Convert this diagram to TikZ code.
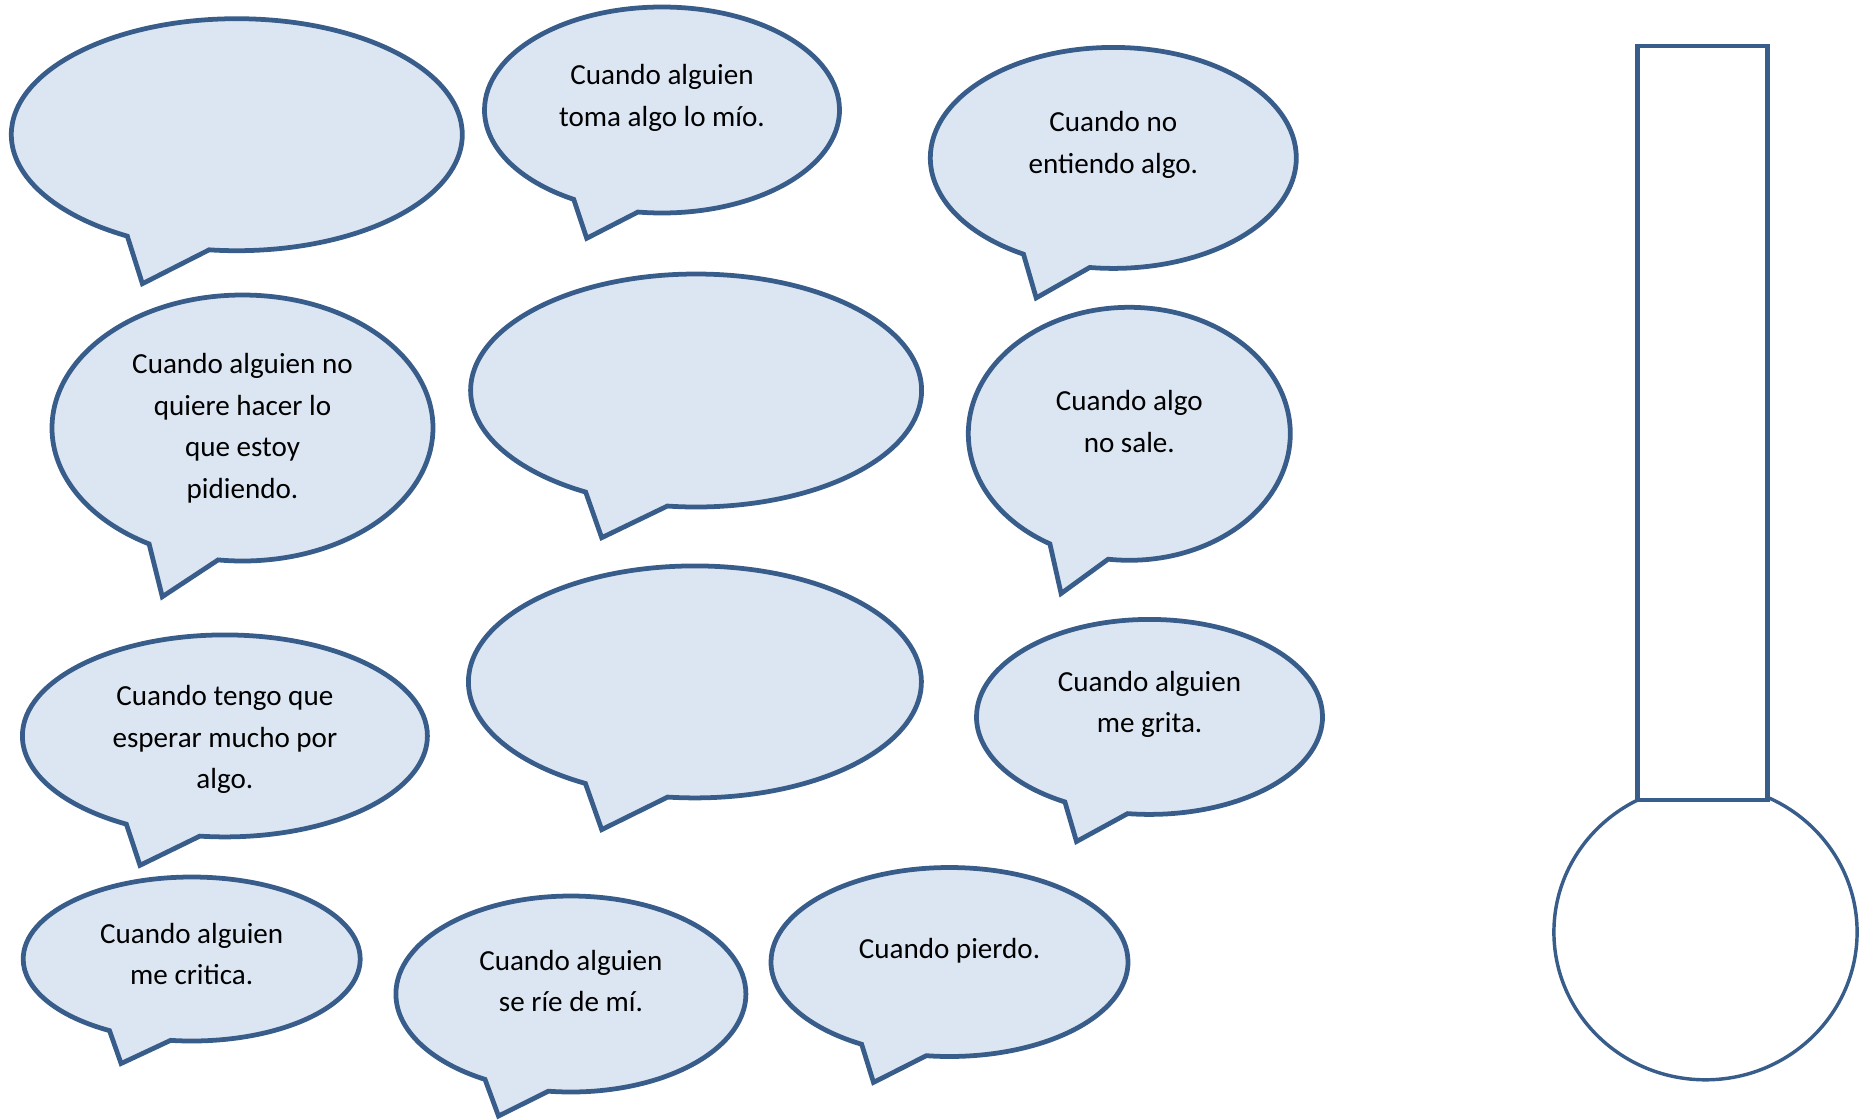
\documentclass[tikz,border=0pt]{standalone}
\usepackage{fontspec}
\setmainfont{Carlito}
\usetikzlibrary{shapes.callouts}

\definecolor{bubblefill}{HTML}{DCE6F2}
\definecolor{bubbleline}{HTML}{385D8A}
\newcommand{\pxl}{0.378pt}

\tikzset{
  bubble/.style 2 args={ellipse callout, draw=bubbleline, fill=bubblefill, line width=1.8pt,
    inner sep=0pt, outer sep=0pt, callout pointer arc=22,
    minimum width=#1*\pxl, minimum height=#2*\pxl},
  saying/.style={align=center, font=\fontsize{11}{15.7}\selectfont, inner sep=0pt},
  tube/.style={draw=bubbleline, fill=white, line width=1.8pt},
  bulb/.style={draw=bubbleline, line width=1.3pt}
}

\begin{document}
\begin{tikzpicture}[x=0.378pt,y=-0.378pt]
  \useasboundingbox (0,0) rectangle (1861,1119);

  % speech bubbles
  \node[bubble={451}{232}, callout absolute pointer={(142.4,283.7)}] (b1) at (236.8,134.7) {};
  \node[bubble={355}{206}, callout absolute pointer={(586.7,238.3)}] (b2) at (662,110) {};
  \node[bubble={366}{221}, callout absolute pointer={(1036.2,297.9)}] (b3) at (1113.3,157.9) {};
  \node[bubble={381}{266}, callout absolute pointer={(162.3,596.7)}] (b4) at (242.5,428) {};
  \node[bubble={451}{233}, callout absolute pointer={(601.7,537.7)}] (b5) at (696.1,390.5) {};
  \node[bubble={322}{253}, callout absolute pointer={(1061.1,593.5)}] (b6) at (1129.3,433.8) {};
  \node[bubble={405}{202}, callout absolute pointer={(140,865.3)}] (b7) at (224.9,735.9) {};
  \node[bubble={453}{232}, callout absolute pointer={(601.7,829.6)}] (b8) at (694.9,681.9) {};
  \node[bubble={346}{195}, callout absolute pointer={(1076.5,841.5)}] (b9) at (1149.5,716.9) {};
  \node[bubble={337}{164}, callout absolute pointer={(121.1,1063.5)}] (b10) at (191.7,959) {};
  \node[bubble={350}{196}, callout absolute pointer={(498.5,1116)}] (b11) at (570.9,994) {};
  \node[bubble={357}{189}, callout absolute pointer={(873.5,1082.4)}] (b12) at (949.5,962) {};

  % texts
  \node[saying] (t2) at (662,98) {Cuando alguien\\toma algo lo mío.};
  \node[saying] (t3) at (1113.3,145) {Cuando no\\entiendo algo.};
  \node[saying] (t4) at (242.5,428.3) {Cuando alguien no\\quiere hacer lo\\que estoy\\pidiendo.};
  \node[saying] (t6) at (1129.3,421.5) {Cuando algo\\no sale.};
  \node[saying] (t7) at (224.9,739.5) {Cuando tengo que\\esperar mucho por\\algo.};
  \node[saying] (t9) at (1149.5,704.5) {Cuando alguien\\me grita.};
  \node[saying] (t10) at (191.7,953.8) {Cuando alguien\\me critica.};
  \node[saying] (t11) at (570.9,981.1) {Cuando alguien\\se ríe de mí.};
  \node[saying] (t12) at (949.5,950.8) {Cuando pierdo.};

  % thermometer
  \draw[bulb] (1705.5,932.1) ellipse [x radius=151.6, y radius=147.7];
  \draw[tube] (1637.5,45.9) rectangle (1767.7,800);
\end{tikzpicture}
\end{document}
